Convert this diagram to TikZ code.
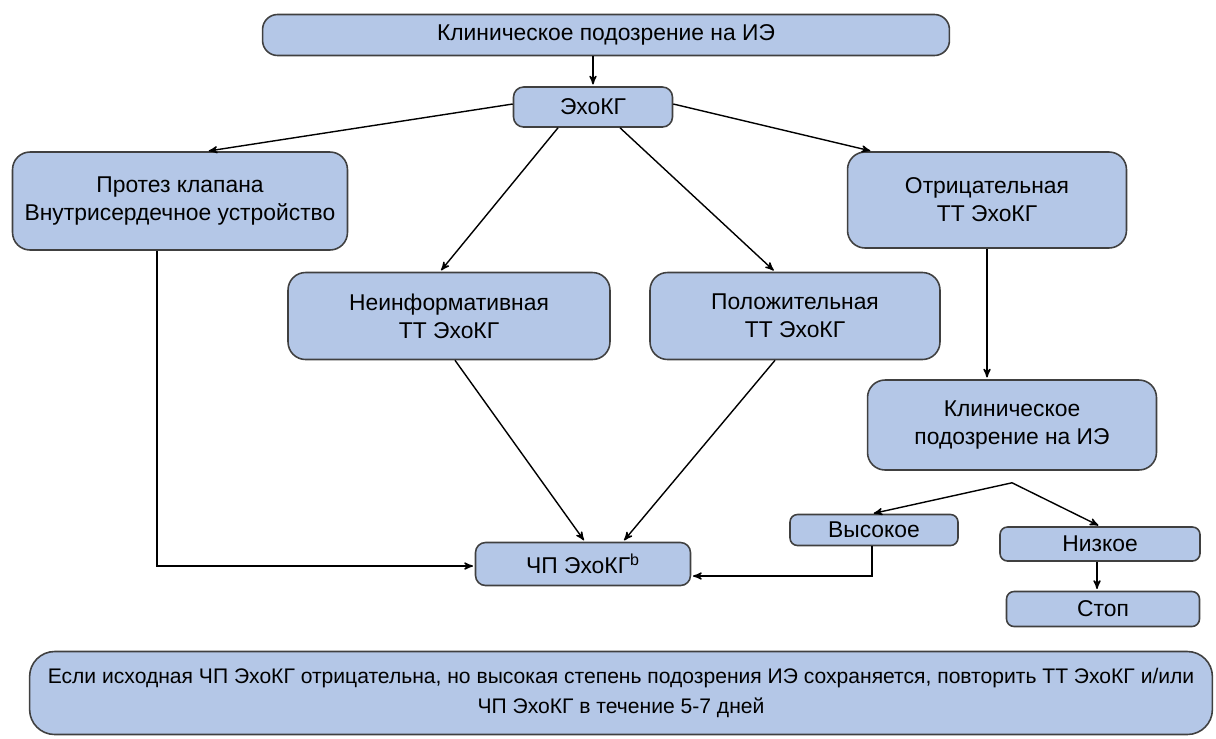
\documentclass[tikz,border=0pt]{standalone}
\usepackage{xcolor}
\usepackage{fontspec}
\setmainfont{Liberation Sans}
\usepackage{tikz}
\usetikzlibrary{arrows, positioning}
\definecolor{boxfill}{HTML}{B4C7E7}
\definecolor{boxline}{HTML}{404040}

\begin{document}
\begin{tikzpicture}[->,
			>=stealth',
			shorten >=1pt,
			thick,
			x=0.02cm, y=-0.02cm,
			blk/.style={rectangle, rounded corners=0.2cm, draw=boxline, line width=0.9pt,
				fill=boxfill, align=center, inner sep=0pt, font=\fontsize{13}{16}\selectfont}]

			\useasboundingbox (0,0) rectangle (1216,738);

			\node[blk, minimum width=13.74cm, minimum height=0.82cm, rounded corners=0.3cm] (top) at (606,35) {Клиническое подозрение на ИЭ};
			\node[blk, minimum width=3.18cm, minimum height=0.80cm] (echo) at (593,107) {ЭхоКГ};
			\node[blk, minimum width=6.70cm, minimum height=1.96cm, rounded corners=0.35cm] (prot) at (180,201) {Протез клапана\\Внутрисердечное устройство};
			\node[blk, minimum width=5.58cm, minimum height=1.92cm, rounded corners=0.35cm] (neg) at (987,200) {Отрицательная\\ТТ ЭхоКГ};
			\node[blk, minimum width=6.44cm, minimum height=1.74cm, rounded corners=0.35cm] (noninf) at (449,316) {Неинформативная\\ТТ ЭхоКГ};
			\node[blk, minimum width=5.80cm, minimum height=1.74cm, rounded corners=0.35cm] (pos) at (795,316) {Положительная\\ТТ ЭхоКГ};
			\node[blk, minimum width=5.78cm, minimum height=1.80cm, rounded corners=0.35cm] (clin) at (1012,425) {Клиническое\\подозрение на ИЭ};
			\node[blk, minimum width=3.36cm, minimum height=0.62cm, rounded corners=0.15cm] (high) at (874,530) {Высокое};
			\node[blk, minimum width=4.00cm, minimum height=0.68cm, rounded corners=0.15cm] (low) at (1100,544) {Низкое};
			\node[blk, minimum width=3.86cm, minimum height=0.70cm, rounded corners=0.15cm] (stop) at (1103,609) {Стоп};
			\node[blk, minimum width=4.30cm, minimum height=0.86cm] (tee) at (583,564) {ЧП ЭхоКГ\textsuperscript{b}};
			\node[blk, minimum width=23.66cm, minimum height=1.66cm, rounded corners=0.5cm,
				font=\fontsize{12}{17}\selectfont] (note) at (621,693) {Если исходная ЧП ЭхоКГ отрицательна, но высокая степень подозрения ИЭ сохраняется, повторить ТТ ЭхоКГ и/или\\ЧП ЭхоКГ в течение 5-7 дней};

			\coordinate (split) at ([yshift=-0.24cm]clin.south);

			\draw[->, black] (top.south -| echo.north) -- (echo.north);
			\draw[->, black] ([yshift=0.06cm]echo.west) -- ([xshift=0.54cm]prot.north);
			\draw[->, black] ([xshift=-0.7cm]echo.south) -- ([xshift=-0.18cm]noninf.north);
			\draw[->, black] ([xshift=0.54cm]echo.south) -- ([xshift=-0.4cm]pos.north);
			\draw[->, black] ([yshift=0.06cm]echo.east) -- ([xshift=-2.3cm]neg.north);
			\draw[->, black] ([xshift=-0.46cm]prot.south) |- ([yshift=-0.04cm]tee.west);
			\draw[->, black] ([xshift=0.12cm]noninf.south) -- ([xshift=0.04cm]tee.north);
			\draw[->, black] ([xshift=-0.4cm]pos.south) -- ([xshift=0.8cm]tee.north);
			\draw[->, black] (neg.south) -- (neg.south |- clin.north);
			\draw[->, black] (split) -- ([xshift=-0.04cm]high.north);
			\draw[->, black] (split) -- (low.north);
			\draw[->, black] ([xshift=-0.04cm]high.south) |- ([yshift=-0.24cm]tee.east);
			\draw[->, black] ([xshift=-0.06cm]low.south) -- ([xshift=-0.06cm]low.south |- stop.north);
		\end{tikzpicture}
\end{document}
